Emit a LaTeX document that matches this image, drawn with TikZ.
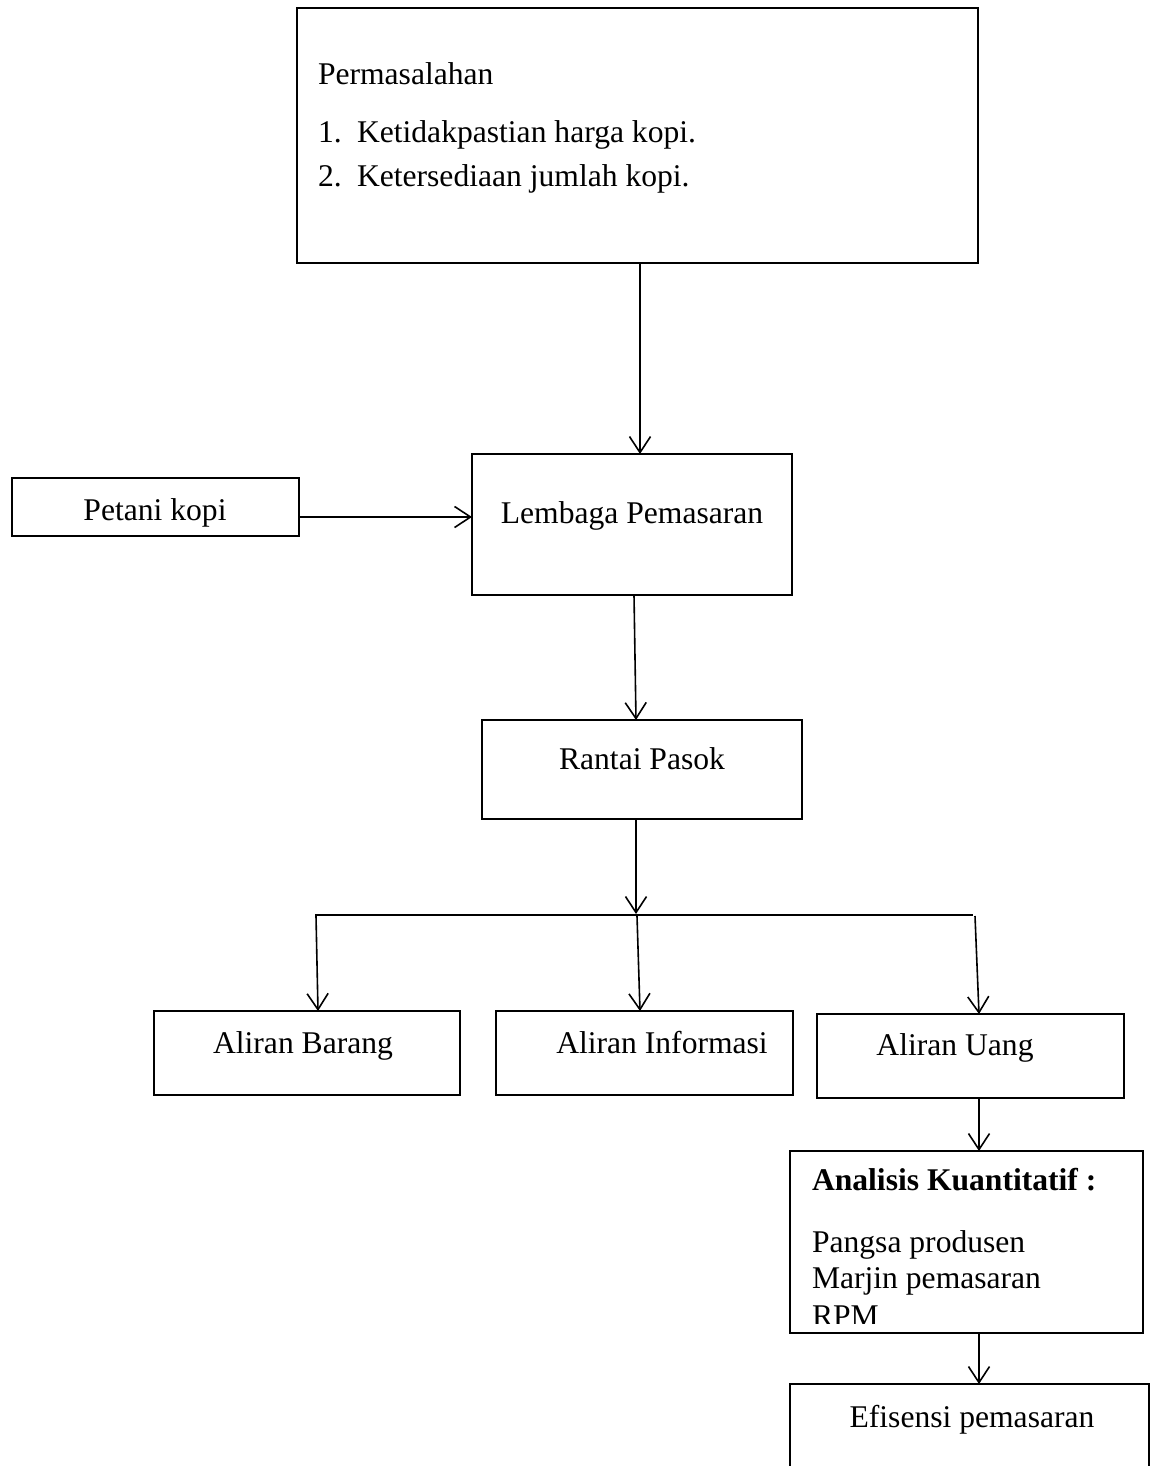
\documentclass[tikz,border=0pt]{standalone}
\usepackage{fontspec}
\setmainfont{Liberation Serif}
\usetikzlibrary{arrows.meta}
\tikzset{
  box/.style={draw, line width=1.4pt, rectangle, inner sep=0pt, outer sep=0pt},
  lbl/.style={inner sep=0pt, outer sep=0pt, font=\fontsize{15.8}{19}\selectfont},
  arr/.style={line width=0.8pt, -{Straight Barb[length=8pt,width=10.5pt,line width=0.8pt]}},
  hline/.style={line width=1pt}
}
\begin{document}
\begin{tikzpicture}[x=0.5pt,y=-0.5pt]
\clip (0,0) rectangle (1152,1466);
\fill[white] (0,0) rectangle (1152,1466);
% boxes
\node[box, minimum width=340.5pt, minimum height=127.5pt] (perm) at (637.5,135.5) {};
\node[box, minimum width=143.5pt, minimum height=29pt] (pet) at (155.5,507) {};
\node[box, minimum width=160pt, minimum height=70.5pt] (lem) at (632,524.5) {};
\node[box, minimum width=160pt, minimum height=49.5pt] (ran) at (642,769.5) {};
\node[box, minimum width=153pt, minimum height=42pt] (ab) at (307,1053) {};
\node[box, minimum width=148.5pt, minimum height=42pt] (ai) at (644.5,1053) {};
\node[box, minimum width=153.5pt, minimum height=42pt] (au) at (970.5,1056) {};
\node[box, minimum width=176.5pt, minimum height=91pt] (ak) at (966.5,1242) {};
\node[box, minimum width=179.5pt, minimum height=58pt] (ef) at (969.5,1442) {};
% texts
\node[lbl, anchor=base west] (tperm) at (318,85) {Permasalahan};
\node[lbl, anchor=base west] (tn1) at (318,143) {1.};
\node[lbl, anchor=base west] (ti1) at (357,143) {Ketidakpastian harga kopi.};
\node[lbl, anchor=base west] (tn2) at (318,187) {2.};
\node[lbl, anchor=base west] (ti2) at (357,187) {Ketersediaan jumlah kopi.};
\node[lbl, anchor=base] (tpet) at (155,520) {Petani kopi};
\node[lbl, anchor=base] (tlem) at (632,523) {Lembaga Pemasaran};
\node[lbl, anchor=base] (tran) at (642,769) {Rantai Pasok};
\node[lbl, anchor=base] (tab) at (303,1053) {Aliran Barang};
\node[lbl, anchor=base] (tai) at (662,1053) {Aliran Informasi};
\node[lbl, anchor=base] (tau) at (955,1055) {Aliran Uang};
\node[lbl, anchor=base west, font=\fontsize{15.8}{19}\selectfont\bfseries] (tak) at (812,1190) {Analisis Kuantitatif :};
\node[lbl, anchor=base west] (tps) at (812,1252) {Pangsa produsen};
\node[lbl, anchor=base west] (tmj) at (812,1288) {Marjin pemasaran};
\begin{scope}
\clip (800,1300) rectangle (1130,1323);
\node[lbl, anchor=base west] (trpm) at (812,1326) {RPM};
\end{scope}
\node[lbl, anchor=base] (tef) at (972,1427) {Efisensi pemasaran};
% horizontal distribution line
\coordinate (hlL) at (315,915);
\coordinate (hlR) at (973,915);
\coordinate (hlT) at (636,914);
\draw[hline] (hlL) -- (hlR);
\coordinate (b1) at (316,916);
\coordinate (b2) at (637,916);
\coordinate (b3) at (975,916);
% connectors
\draw[arr] ([xshift=1.25pt]perm.south) -- ([xshift=1.25pt]perm.south |- lem.north);
\draw[arr] ([yshift=-5pt]pet.east) -- ([yshift=-5pt]pet.east -| lem.west);
\draw[arr] ([xshift=1pt]lem.south) -- ([xshift=-3pt]ran.north);
\draw[arr] ([xshift=-3pt]ran.south) -- (hlT);
\draw[arr] (b1) -- ([xshift=5.5pt]ab.north);
\draw[arr] (b2) -- ([xshift=-2.25pt]ai.north);
\draw[arr] (b3) -- ([xshift=4.25pt]au.north);
\draw[arr] ([xshift=4.25pt]au.south) -- ([xshift=4.25pt]au.south |- ak.north);
\draw[arr] ([xshift=6.25pt]ak.south) -- ([xshift=6.25pt]ak.south |- ef.north);
\end{tikzpicture}
\end{document}
